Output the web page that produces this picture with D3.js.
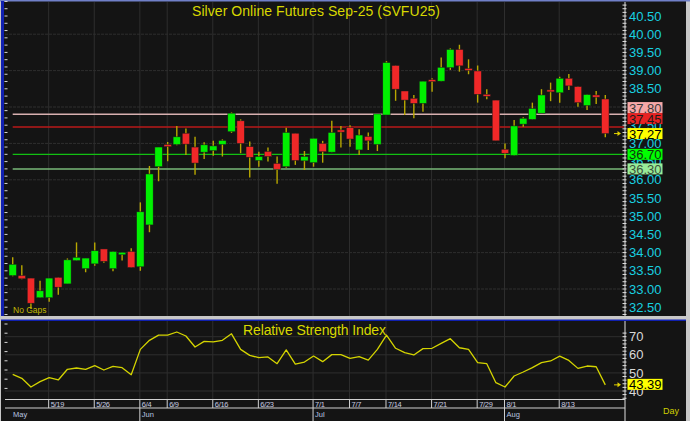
<!DOCTYPE html>
<html>
<head>
<meta charset="utf-8">
<script src="https://cdn.jsdelivr.net/npm/d3@7"></script>
<style>
  html, body { margin: 0; padding: 0; background: #c8c8c8; }
  svg { display: block; font-family: "Liberation Sans", Arial, sans-serif; }
</style>
</head>
<body>
<div id="chart"></div>
<script>
// daily OHLC, Silver Sep-25, one entry per session
const opens = [33.37, 33.37, 33.30, 32.76, 32.76, 33.32, 33.14, 33.78, 33.56, 33.69, 34.10, 33.56, 33.94, 34.03,
  33.61, 34.76, 36.36, 36.97, 36.97, 37.28, 36.90, 36.76, 36.80, 36.97, 37.32, 37.62, 36.91, 36.53, 36.78, 36.45,
  36.36, 37.28, 36.52, 36.47, 37.00, 36.76, 37.37, 37.43, 36.82, 37.19, 36.97, 37.78, 39.14, 38.44, 38.24, 38.10,
  38.75, 38.71, 39.08, 39.58, 39.06, 38.99, 38.35, 38.19, 36.84, 36.67, 37.53, 37.66, 37.83, 38.47, 38.39, 38.79,
  38.56, 38.04, 38.33, 38.22];
const highs = [33.87, 33.65, 33.30, 33.23, 33.30, 33.32, 33.84, 34.28, 33.85, 34.28, 34.10, 34.03, 34.01, 34.12,
  35.38, 36.38, 36.90, 37.04, 37.48, 37.41, 37.18, 37.03, 37.07, 37.11, 37.85, 37.66, 37.05, 36.77, 36.89, 36.64,
  37.43, 37.28, 36.79, 37.14, 37.07, 37.62, 37.48, 37.50, 37.39, 37.30, 37.81, 39.26, 39.14, 38.44, 38.33, 38.71,
  38.79, 39.36, 39.61, 39.71, 39.31, 39.14, 38.49, 38.19, 37.00, 37.64, 37.72, 38.12, 38.49, 38.67, 38.83, 38.91,
  38.56, 38.34, 38.44, 38.33];
const lows = [33.35, 33.27, 32.45, 32.75, 32.65, 32.84, 33.14, 33.78, 33.46, 33.64, 33.72, 33.49, 33.78, 33.59,
  33.50, 34.56, 35.96, 36.51, 36.95, 36.68, 36.14, 36.57, 36.66, 36.64, 37.29, 36.73, 36.06, 36.36, 36.50, 35.89,
  36.33, 36.41, 36.27, 36.36, 36.47, 36.76, 36.89, 36.91, 36.68, 36.82, 36.79, 37.78, 38.17, 37.78, 37.69, 37.87,
  38.42, 38.71, 39.02, 38.97, 38.90, 38.12, 38.21, 37.07, 36.59, 36.67, 37.46, 37.66, 37.83, 38.16, 38.12, 38.47,
  38.01, 37.92, 38.08, 37.17];
const closes = [33.68, 33.28, 32.61, 32.95, 33.30, 33.05, 33.80, 33.87, 33.85, 34.05, 33.76, 34.03, 34.01, 33.59,
  35.12, 36.16, 36.90, 36.91, 37.18, 36.98, 36.46, 36.96, 36.93, 37.08, 37.83, 37.00, 36.62, 36.64, 36.64, 36.29,
  37.30, 36.53, 36.64, 37.14, 36.77, 37.30, 37.31, 37.12, 37.23, 37.07, 37.81, 39.22, 38.49, 38.19, 38.10, 38.71,
  38.70, 39.09, 39.58, 39.13, 39.02, 38.35, 38.31, 37.07, 36.73, 37.48, 37.69, 37.96, 38.33, 38.42, 38.79, 38.58,
  38.12, 38.34, 38.27, 37.27];

const rsiValues = [49.2, 47.0, 42.2, 45.2, 47.4, 46.1, 52.0, 52.7, 52.0, 54.0, 51.6, 53.6, 52.9, 49.0, 63.0, 68.0,
  70.9, 70.9, 72.6, 70.4, 64.3, 67.4, 67.1, 68.0, 71.6, 63.0, 59.7, 58.4, 58.8, 55.1, 62.7, 54.9, 56.0, 59.3, 56.2,
  60.1, 60.1, 58.0, 59.0, 57.1, 63.0, 70.9, 63.6, 61.2, 59.9, 63.4, 63.6, 66.3, 68.9, 63.9, 63.0, 55.7, 55.1, 44.6,
  42.2, 48.3, 50.5, 52.9, 55.7, 56.6, 59.3, 56.9, 52.5, 53.8, 53.4, 43.39];

const dateTickIndex = [4, 9, 14, 17, 22, 27, 33, 37, 41, 46, 51, 54, 60];
const dateTickLabels = ['5/19', '5/26', '6/4', '6/9', '6/16', '6/23', '7/1', '7/7', '7/14', '7/21', '7/29', '8/1', '8/13'];
const monthIndex = [0, 14, 33, 54];
const monthLabels = ['May', 'Jun', 'Jul', 'Aug'];

const priceTicks = [32.5, 33, 33.5, 34, 34.5, 35, 35.5, 36, 36.5, 37, 37.5, 38, 38.5, 39, 39.5, 40, 40.5];
const priceGrid = [33, 34, 35, 36, 37, 38, 39, 40];
const rsiTicks = [40, 50, 60, 70];

const levelValues = [37.80, 37.45, 36.70, 36.30];
const lastPrice = 37.27;
const lastRsi = 43.39;

// styling for the level lines / flags
const levelStyle = {
  '37.80': { line: '#d8b0b0', box: '#f6a8a8', text: '#3a3a3a', w: 1.5 },
  '37.45': { line: '#b81818', box: '#e82222', text: '#1c1c1c', w: 1.5 },
  '36.70': { line: '#12c012', box: '#00ff00', text: '#103010', w: 1.2 },
  '36.30': { line: '#78b878', box: '#98ec98', text: '#3c503c', w: 1.5 }
};

const W = 690, H = 421;
const plotL = 5, plotR = 625;
const mainTop = 2, mainBot = 316;
const rsiTop = 321, rsiBot = 399.5;

const svg = d3.select('#chart').append('svg').attr('width', W).attr('height', H);

// frame
svg.append('rect').attr('x', 0).attr('y', 0).attr('width', W).attr('height', H).attr('fill', '#c8c8c8');
svg.append('rect').attr('x', 1).attr('y', 1).attr('width', 685).attr('height', mainBot - 1).attr('fill', '#141414');
svg.append('rect').attr('x', 1).attr('y', 320).attr('width', 685).attr('height', 101).attr('fill', '#141414');
svg.append('rect').attr('x', 0).attr('y', 0).attr('width', W).attr('height', 1.5).attr('fill', '#7080c8');
svg.append('rect').attr('x', 1).attr('y', 1).attr('width', 3).attr('height', mainBot - 1).attr('fill', '#1020b0');
svg.append('rect').attr('x', 1).attr('y', 319.5).attr('width', 685).attr('height', 1.5).attr('fill', '#1020b0');

const x = d3.scaleLinear().domain([0, 65]).range([12.7, 605.3]);
const y = d3.scaleLinear().domain([32.5, 40.5]).range([307.2, 16]);
const yr = d3.scaleLinear().domain([40, 70]).range([391, 336.7]);

const grid = '#2e2e2e';

// gridlines
const g = svg.append('g');
g.selectAll('.hg').data(priceGrid).enter().append('line')
  .attr('x1', plotL).attr('x2', plotR)
  .attr('y1', d => y(d)).attr('y2', d => y(d))
  .attr('stroke', grid).attr('stroke-dasharray', '3,1');
g.selectAll('.vg').data(dateTickIndex).enter().append('line')
  .attr('x1', d => x(d) - 0.5).attr('x2', d => x(d) - 0.5)
  .attr('y1', mainTop).attr('y2', mainBot)
  .attr('stroke', grid);
g.selectAll('.hr').data(rsiTicks).enter().append('line')
  .attr('x1', plotL).attr('x2', plotR)
  .attr('y1', d => yr(d)).attr('y2', d => yr(d))
  .attr('stroke', grid);
g.selectAll('.vr').data(dateTickIndex).enter().append('line')
  .attr('x1', d => x(d) - 0.5).attr('x2', d => x(d) - 0.5)
  .attr('y1', rsiTop).attr('y2', rsiBot)
  .attr('stroke', grid);

// title
svg.append('text').attr('x', 192).attr('y', 16).attr('font-size', 14)
  .attr('textLength', 248).attr('lengthAdjust', 'spacing')
  .attr('fill', '#d8d800').text('Silver Online Futures Sep-25 (SVFU25)');

// level lines
svg.selectAll('.lvl').data(levelValues).enter().append('line')
  .attr('x1', x(0)).attr('x2', plotR - 1)
  .attr('y1', d => y(d)).attr('y2', d => y(d))
  .attr('stroke', d => levelStyle[d.toFixed(2)].line)
  .attr('stroke-width', d => levelStyle[d.toFixed(2)].w);

// candles
const candles = svg.append('g').selectAll('g').data(opens).enter().append('g');
const bodyW = 7.4;
candles.append('line')
  .attr('x1', (d, i) => x(i)).attr('x2', (d, i) => x(i))
  .attr('y1', (d, i) => y(highs[i])).attr('y2', (d, i) => y(lows[i]))
  .attr('stroke', '#b8a800').attr('stroke-width', 1.4);
candles.append('rect')
  .attr('x', (d, i) => x(i) - bodyW / 2)
  .attr('width', bodyW)
  .attr('y', (d, i) => y(Math.max(d, closes[i])))
  .attr('height', (d, i) => Math.max(2, Math.abs(y(d) - y(closes[i]))))
  .attr('fill', (d, i) => closes[i] >= d ? '#00f000' : '#f02828')
  .attr('stroke', '#1a1a1a').attr('stroke-width', 0.5);

// "No Gaps"
svg.append('text').attr('x', 13).attr('y', 313).attr('font-size', 8.5)
  .attr('fill', '#c0b800').text('No Gaps');

// left minor ticks
svg.append('g').selectAll('line').data(d3.range(0, 44).map(k => 32.3 + k * 0.2)).enter().append('line')
  .attr('x1', 4.5).attr('x2', 7.5)
  .attr('y1', d => y(d)).attr('y2', d => y(d))
  .attr('stroke', '#d8d8d8');
svg.append('g').selectAll('line').data(d3.range(0, 8)).enter().append('line')
  .attr('x1', 4.5).attr('x2', 7.5)
  .attr('y1', d => 324 + d * 9.2).attr('y2', d => 324 + d * 9.2)
  .attr('stroke', '#d8d8d8');

// flag layout: last price at its value, higher levels stacked above it
const boxH = 11, boxX = 627.5, boxW = 35;
const flags = [{ v: lastPrice, top: y(lastPrice) - boxH / 2, bg: '#ffff00', fg: '#000' }];
let prevTop = flags[0].top - 4;
levelValues.filter(v => v > lastPrice).sort((a, b) => a - b).forEach(v => {
  const top = Math.min(y(v) - boxH / 2, prevTop - boxH);
  const s = levelStyle[v.toFixed(2)];
  flags.push({ v: v, top: top, bg: s.box, fg: s.text });
  prevTop = top;
});
levelValues.filter(v => v < lastPrice).forEach(v => {
  const s = levelStyle[v.toFixed(2)];
  flags.push({ v: v, top: y(v) - boxH / 2, bg: s.box, fg: s.text });
});
// axis labels whose centre sits under a flag are not shown
const hidden = v => flags.some(f => y(v) > f.top && y(v) < f.top + boxH);

// right price axis
svg.append('line').attr('x1', plotR).attr('x2', plotR).attr('y1', mainTop).attr('y2', mainBot)
  .attr('stroke', '#e0e0e0');
svg.append('g').selectAll('line').data(d3.range(0, 86).map(k => 32.3 + k * 0.1)).enter().append('line')
  .attr('x1', plotR - 2.5).attr('x2', plotR + 1.5)
  .attr('y1', d => y(d)).attr('y2', d => y(d))
  .attr('stroke', '#e0e0e0');

const axis = d3.axisRight(y).tickValues(priceTicks.filter(v => !hidden(v)))
  .tickFormat(d3.format('.2f')).tickSize(0).tickPadding(4);
const ag = svg.append('g').attr('transform', `translate(${plotR},0)`).call(axis);
ag.select('.domain').remove();
ag.selectAll('text').attr('fill', '#18d0e0').attr('font-size', 13)
  .attr('font-family', '"Liberation Sans", Arial, sans-serif');

function flag(v, top, bg, fg) {
  svg.append('rect').attr('x', boxX).attr('y', top).attr('width', boxW).attr('height', boxH).attr('fill', bg);
  svg.append('text').attr('x', boxX + 1.5).attr('y', top + boxH / 2 + 0.5).attr('dy', '0.35em')
    .attr('font-size', 13).attr('fill', fg).text(v.toFixed(2));
}
flags.forEach(f => flag(f.v, f.top, f.bg, f.fg));

function arrow(cy) {
  svg.append('path').attr('d', `M614,${cy}H619`).attr('stroke', '#e0d000').attr('stroke-width', 1);
  svg.append('path').attr('d', `M617.5,${cy - 2.5}L621,${cy}L617.5,${cy + 2.5}Z`).attr('fill', '#e0d000');
}
arrow(y(lastPrice));

// RSI panel
svg.append('text').attr('x', 243).attr('y', 335).attr('font-size', 14)
  .attr('textLength', 143).attr('lengthAdjust', 'spacing')
  .attr('fill', '#d8d800').text('Relative Strength Index');

svg.append('path').datum(rsiValues)
  .attr('d', d3.line().x((d, i) => x(i)).y(d => yr(d)))
  .attr('fill', 'none').attr('stroke', '#d4d400').attr('stroke-width', 1.3)
  .attr('stroke-linejoin', 'round');

svg.append('line').attr('x1', plotR).attr('x2', plotR).attr('y1', rsiTop).attr('y2', H)
  .attr('stroke', '#e0e0e0');
svg.append('g').selectAll('line').data(d3.range(0, 19).map(k => 36 + k * 2)).enter().append('line')
  .attr('x1', plotR - 2.5).attr('x2', plotR + 1.5)
  .attr('y1', d => yr(d)).attr('y2', d => yr(d))
  .attr('stroke', '#e0e0e0');
const raxis = d3.axisRight(yr).tickValues(rsiTicks).tickSize(0).tickPadding(4);
const rg = svg.append('g').attr('transform', `translate(${plotR},0)`).call(raxis);
rg.select('.domain').remove();
rg.selectAll('text').attr('fill', '#d8d8d8').attr('font-size', 13)
  .attr('font-family', '"Liberation Sans", Arial, sans-serif');

flag(lastRsi, yr(lastRsi) - 6, '#ffff00', '#000');
arrow(yr(lastRsi));

// date axis
const axCol = '#d0d0d0';
svg.append('line').attr('x1', plotL).attr('x2', plotR).attr('y1', rsiBot).attr('y2', rsiBot).attr('stroke', axCol);
svg.append('line').attr('x1', plotL).attr('x2', plotR).attr('y1', 408).attr('y2', 408).attr('stroke', axCol);
svg.append('g').selectAll('line').data(dateTickIndex).enter().append('line')
  .attr('x1', d => x(d) - 0.5).attr('x2', d => x(d) - 0.5)
  .attr('y1', rsiBot).attr('y2', 408).attr('stroke', axCol);
svg.append('g').selectAll('text').data(dateTickIndex).enter().append('text')
  .attr('x', d => x(d) + 1.5).attr('y', 406.5)
  .attr('font-size', 7.5).attr('letter-spacing', -0.3).attr('fill', '#c8cce0')
  .text((d, i) => dateTickLabels[i]);
svg.append('g').selectAll('line').data(monthIndex.slice(1)).enter().append('line')
  .attr('x1', d => x(d) - 0.5).attr('x2', d => x(d) - 0.5)
  .attr('y1', 408).attr('y2', H).attr('stroke', axCol);
svg.append('g').selectAll('text').data(monthIndex).enter().append('text')
  .attr('x', (d, i) => i === 0 ? 13 : x(d) + 1.5).attr('y', 416.5)
  .attr('font-size', 7.5).attr('fill', '#b8c4e0')
  .text((d, i) => monthLabels[i]);

svg.append('text').attr('x', 663).attr('y', 414).attr('font-size', 9)
  .attr('fill', '#d0d000').text('Day');
</script>
</body>
</html>
